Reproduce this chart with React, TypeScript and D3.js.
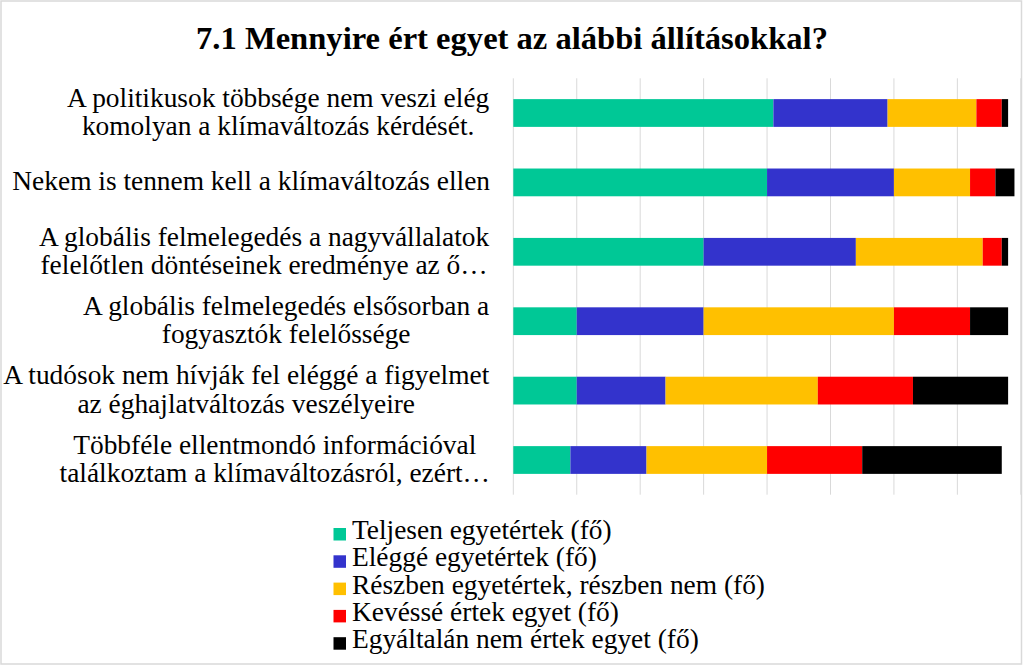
import React from "react";
import * as d3 from "d3";

const title = "7.1 Mennyire ért egyet az alábbi állításokkal?";

const categories: string[][] = [
  ["A politikusok többsége nem veszi elég", "komolyan a klímaváltozás kérdését."],
  ["Nekem is tennem kell a klímaváltozás ellen"],
  ["A globális felmelegedés a nagyvállalatok", "felelőtlen döntéseinek eredménye az ő…"],
  ["A globális felmelegedés elsősorban a", "fogyasztók felelőssége"],
  ["A tudósok nem hívják fel eléggé a figyelmet", "az éghajlatváltozás veszélyeire"],
  ["Többféle ellentmondó információval", "találkoztam a klímaváltozásról, ezért…"],
];

const seriesNames = [
  "Teljesen egyetértek (fő)",
  "Eléggé egyetértek (fő)",
  "Részben egyetértek, részben nem (fő)",
  "Kevéssé értek egyet (fő)",
  "Egyáltalán nem értek egyet (fő)",
];

const teljesen = [41, 40, 30, 10, 10, 9];
const elegge = [18, 20, 24, 20, 14, 12];
const reszben = [14, 12, 20, 30, 24, 19];
const kevesse = [4, 4, 3, 12, 15, 15];
const egyaltalan = [1, 3, 1, 6, 15, 22];

const xTicks = [0, 10, 20, 30, 40, 50, 60, 70, 80];

const colors = ["#00C896", "#3333CC", "#FFC000", "#FF0000", "#000000"];

const W = 1024;
const H = 666;
const FONT = "'Liberation Serif', 'Times New Roman', serif";
const LABEL_SIZE = 27.4;

function measure(text: string, size: number): number {
  const c = document.createElement("canvas");
  const ctx = c.getContext("2d");
  if (!ctx) return text.length * size * 0.45;
  ctx.font = `${size}px 'Liberation Serif'`;
  return ctx.measureText(text).width;
}

export default function App() {
  const keys = ["t", "e", "r", "k", "n"];
  const rows = categories.map((_, i) => ({
    idx: i,
    t: teljesen[i],
    e: elegge[i],
    r: reszben[i],
    k: kevesse[i],
    n: egyaltalan[i],
  }));
  const stacked = d3.stack<any>().keys(keys)(rows);

  const x = d3.scaleLinear().domain([0, 80]).range([513.3, 1020.8]);
  const y = d3
    .scaleBand<number>()
    .domain(rows.map((r) => r.idx))
    .range([78.3, 494.7])
    .paddingInner(0.6)
    .paddingOuter(0.3);

  const labelRight = 490;
  const lineH = 28.5;

  return (
    <svg
      width={W}
      height={H}
      style={{ position: "absolute", left: 0, top: 0, background: "#fff" }}
      fontFamily={FONT}
    >
      <rect x={0} y={0} width={W} height={H} fill="#fff" />
      <rect x={1} y={1} width={1020.5} height={663} fill="none" stroke="#d9d9d9" strokeWidth={1.5} />
      <text x={512} y={49} textAnchor="middle" fontSize={32.6} fontWeight="bold" fill="#000">
        {title}
      </text>
      {xTicks.map((t) => (
        <line
          key={t}
          x1={x(t)}
          x2={x(t)}
          y1={78.3}
          y2={494.7}
          stroke="#d9d9d9"
          strokeWidth={1}
        />
      ))}
      {stacked.map((s, si) => (
        <g key={si} fill={colors[si]}>
          {s.map((d: any, i: number) => (
            <rect
              key={i}
              x={x(d[0])}
              y={y(i)!}
              width={Math.max(0, x(d[1]) - x(d[0]))}
              height={y.bandwidth()}
            />
          ))}
        </g>
      ))}
      {categories.map((lines, i) => {
        const maxW = Math.max(...lines.map((l) => measure(l, LABEL_SIZE)));
        const cx = labelRight - maxW / 2;
        const center = y(i)! + y.bandwidth() / 2;
        const n = lines.length;
        return (
          <text key={i} fontSize={LABEL_SIZE} textAnchor="middle" fill="#000">
            {lines.map((l, j) => (
              <tspan key={j} x={cx} y={center + 8 + (j - (n - 1) / 2) * lineH}>
                {l}
              </tspan>
            ))}
          </text>
        );
      })}
      {seriesNames.map((name, i) => {
        const base = 539 + i * 27.3;
        return (
          <g key={i}>
            <rect x={333.5} y={base - 11} width={12.5} height={12.5} fill={colors[i]} />
            <text x={352} y={base} fontSize={LABEL_SIZE} fill="#000">
              {name}
            </text>
          </g>
        );
      })}
    </svg>
  );
}
